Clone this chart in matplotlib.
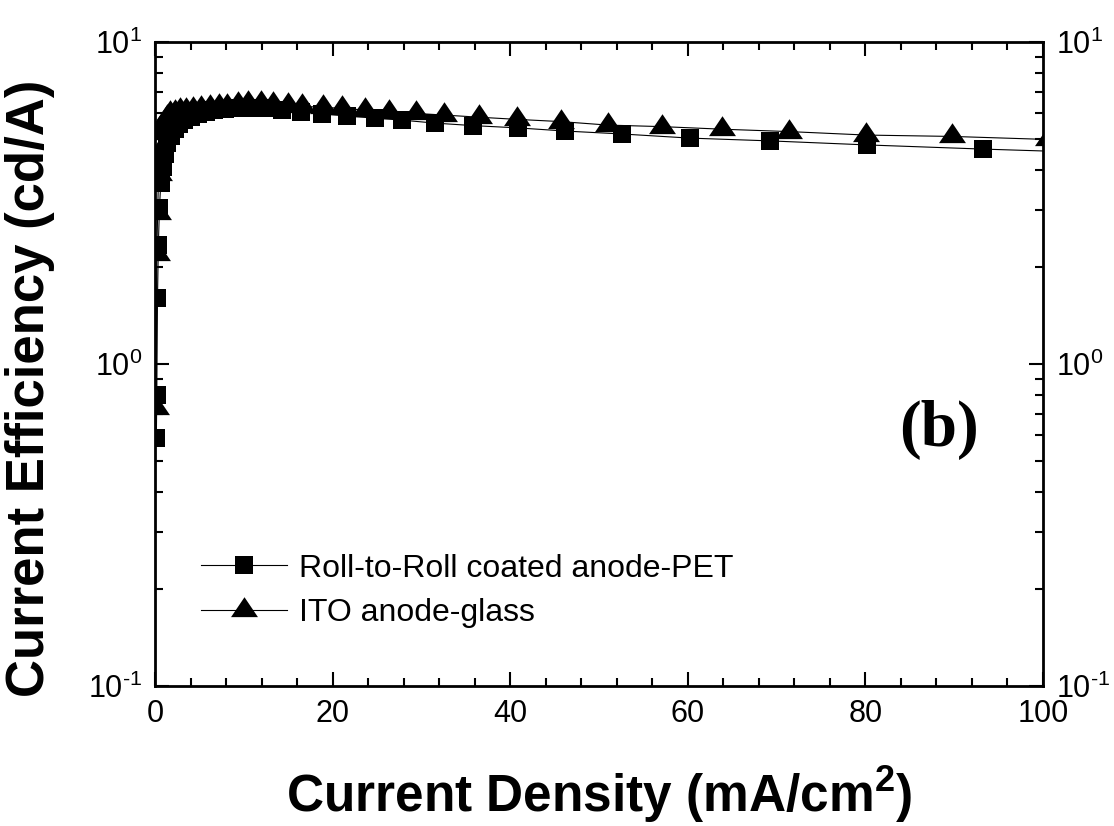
import matplotlib
matplotlib.use("Agg")
import matplotlib.pyplot as plt
from matplotlib.ticker import MultipleLocator

plt.rcParams['font.family'] = ['Liberation Sans', 'DejaVu Sans']
plt.rcParams['mathtext.fontset'] = 'custom'
plt.rcParams['mathtext.rm'] = 'Liberation Sans'
plt.rcParams['mathtext.it'] = 'Liberation Sans:italic'
plt.rcParams['mathtext.bf'] = 'Liberation Sans:bold'

# Roll-to-Roll coated anode-PET (squares)
j_pet = [0.15, 0.2, 0.28, 0.38, 0.5, 0.65, 0.85, 1.1, 1.4, 1.75, 2.2, 2.7,
         3.3, 4.0, 4.8, 5.7, 6.7, 7.9, 9.2, 10.7, 12.4, 14.3, 16.4, 18.8,
         21.6, 24.8, 27.8, 31.5, 35.8, 40.9, 46.2, 52.6, 60.2, 69.3, 80.2,
         93.2, 107.5]
ce_pet = [0.59, 0.80, 1.60, 2.35, 3.05, 3.65, 4.1, 4.5, 4.85, 5.1, 5.35, 5.55,
          5.72, 5.85, 5.97, 6.07, 6.14, 6.2, 6.24, 6.25, 6.22, 6.17, 6.08, 5.98,
          5.89, 5.80, 5.72, 5.60, 5.50, 5.41, 5.29, 5.18, 5.03, 4.93, 4.79,
          4.65, 4.52]

# ITO anode-glass (triangles)
j_ito = [0.12, 0.2, 0.3, 0.4, 0.55, 0.75, 1.0, 1.3, 1.7, 2.2, 2.8, 3.5, 4.3,
         5.2, 6.2, 7.2, 8.1, 9.3, 10.5, 11.9, 13.3, 15.0, 16.6, 18.9, 21.1,
         23.6, 26.4, 29.4, 32.6, 36.5, 40.8, 45.7, 51.0, 57.1, 63.9, 71.4,
         80.1, 89.8, 100.6]
ce_ito = [0.73, 2.2, 2.95, 3.9, 4.6, 5.2, 5.6, 5.85, 6.0, 6.08, 6.13, 6.17, 6.21,
          6.25, 6.28, 6.31, 6.34, 6.40, 6.45, 6.45, 6.42, 6.36, 6.31, 6.27, 6.22,
          6.15, 6.08, 6.0, 5.93, 5.84, 5.75, 5.66, 5.52, 5.46, 5.36, 5.27,
          5.14, 5.09, 4.98]

x_ticks = [0, 20, 40, 60, 80, 100]
y_ticks = [0.1, 1, 10]
y_ticklabels = ['$10^{\\text{-}1}$', '$10^{0}$', '$10^{1}$']

# triangle centred on its centroid, like the original software draws it
tri = [(0, 2), (-2.03, -1), (2.03, -1), (0, 2)]

fig = plt.figure(figsize=(11.14, 8.26), dpi=100)
ax = fig.add_axes([155 / 1114, 1 - 686 / 826, 888 / 1114, 644 / 826])

ax.plot(j_pet, ce_pet, color='black', lw=0.8, marker='s', ms=13.5, mew=0,
        label='Roll-to-Roll coated anode-PET')
ax.plot(j_ito, ce_ito, color='black', lw=0.8, marker=tri, ms=19.4, mew=0,
        label='ITO anode-glass')

ax.set_yscale('log')
ax.set_xlim(0, 100)
ax.set_ylim(0.1, 10)
ax.set_xticks(x_ticks)
ax.xaxis.set_minor_locator(MultipleLocator(4))
ax.set_yticks(y_ticks)
ax.set_yticklabels(y_ticklabels)

for s in ax.spines.values():
    s.set_linewidth(2)
ax.tick_params(which='both', direction='in', top=True, right=True,
               labelright=True, width=1.5, labelsize=22)
ax.tick_params(which='major', length=10, pad=9)
ax.tick_params(which='minor', length=5.5)

ax.set_xlabel('Current Density (mA/cm$\\mathbf{^2}$)', fontsize=37, fontweight='bold')
ax.set_ylabel('Current Efficiency (cd/A)', fontsize=38, fontweight='bold')
ax.xaxis.set_label_coords(0.5, -0.122)
ax.yaxis.set_label_coords(-0.113, 0.463)

ax.text(0.883, 0.397, '(b)', transform=ax.transAxes, fontsize=47,
        fontweight='bold', family='Liberation Serif', ha='center', va='center')

ax.legend(loc='center left', bbox_to_anchor=(0.052, 0.148), frameon=False,
          fontsize=23, handlelength=2.7, handletextpad=0.35, labelspacing=0.45,
          borderpad=0, borderaxespad=0)

fig.savefig('out.png', dpi=100)
